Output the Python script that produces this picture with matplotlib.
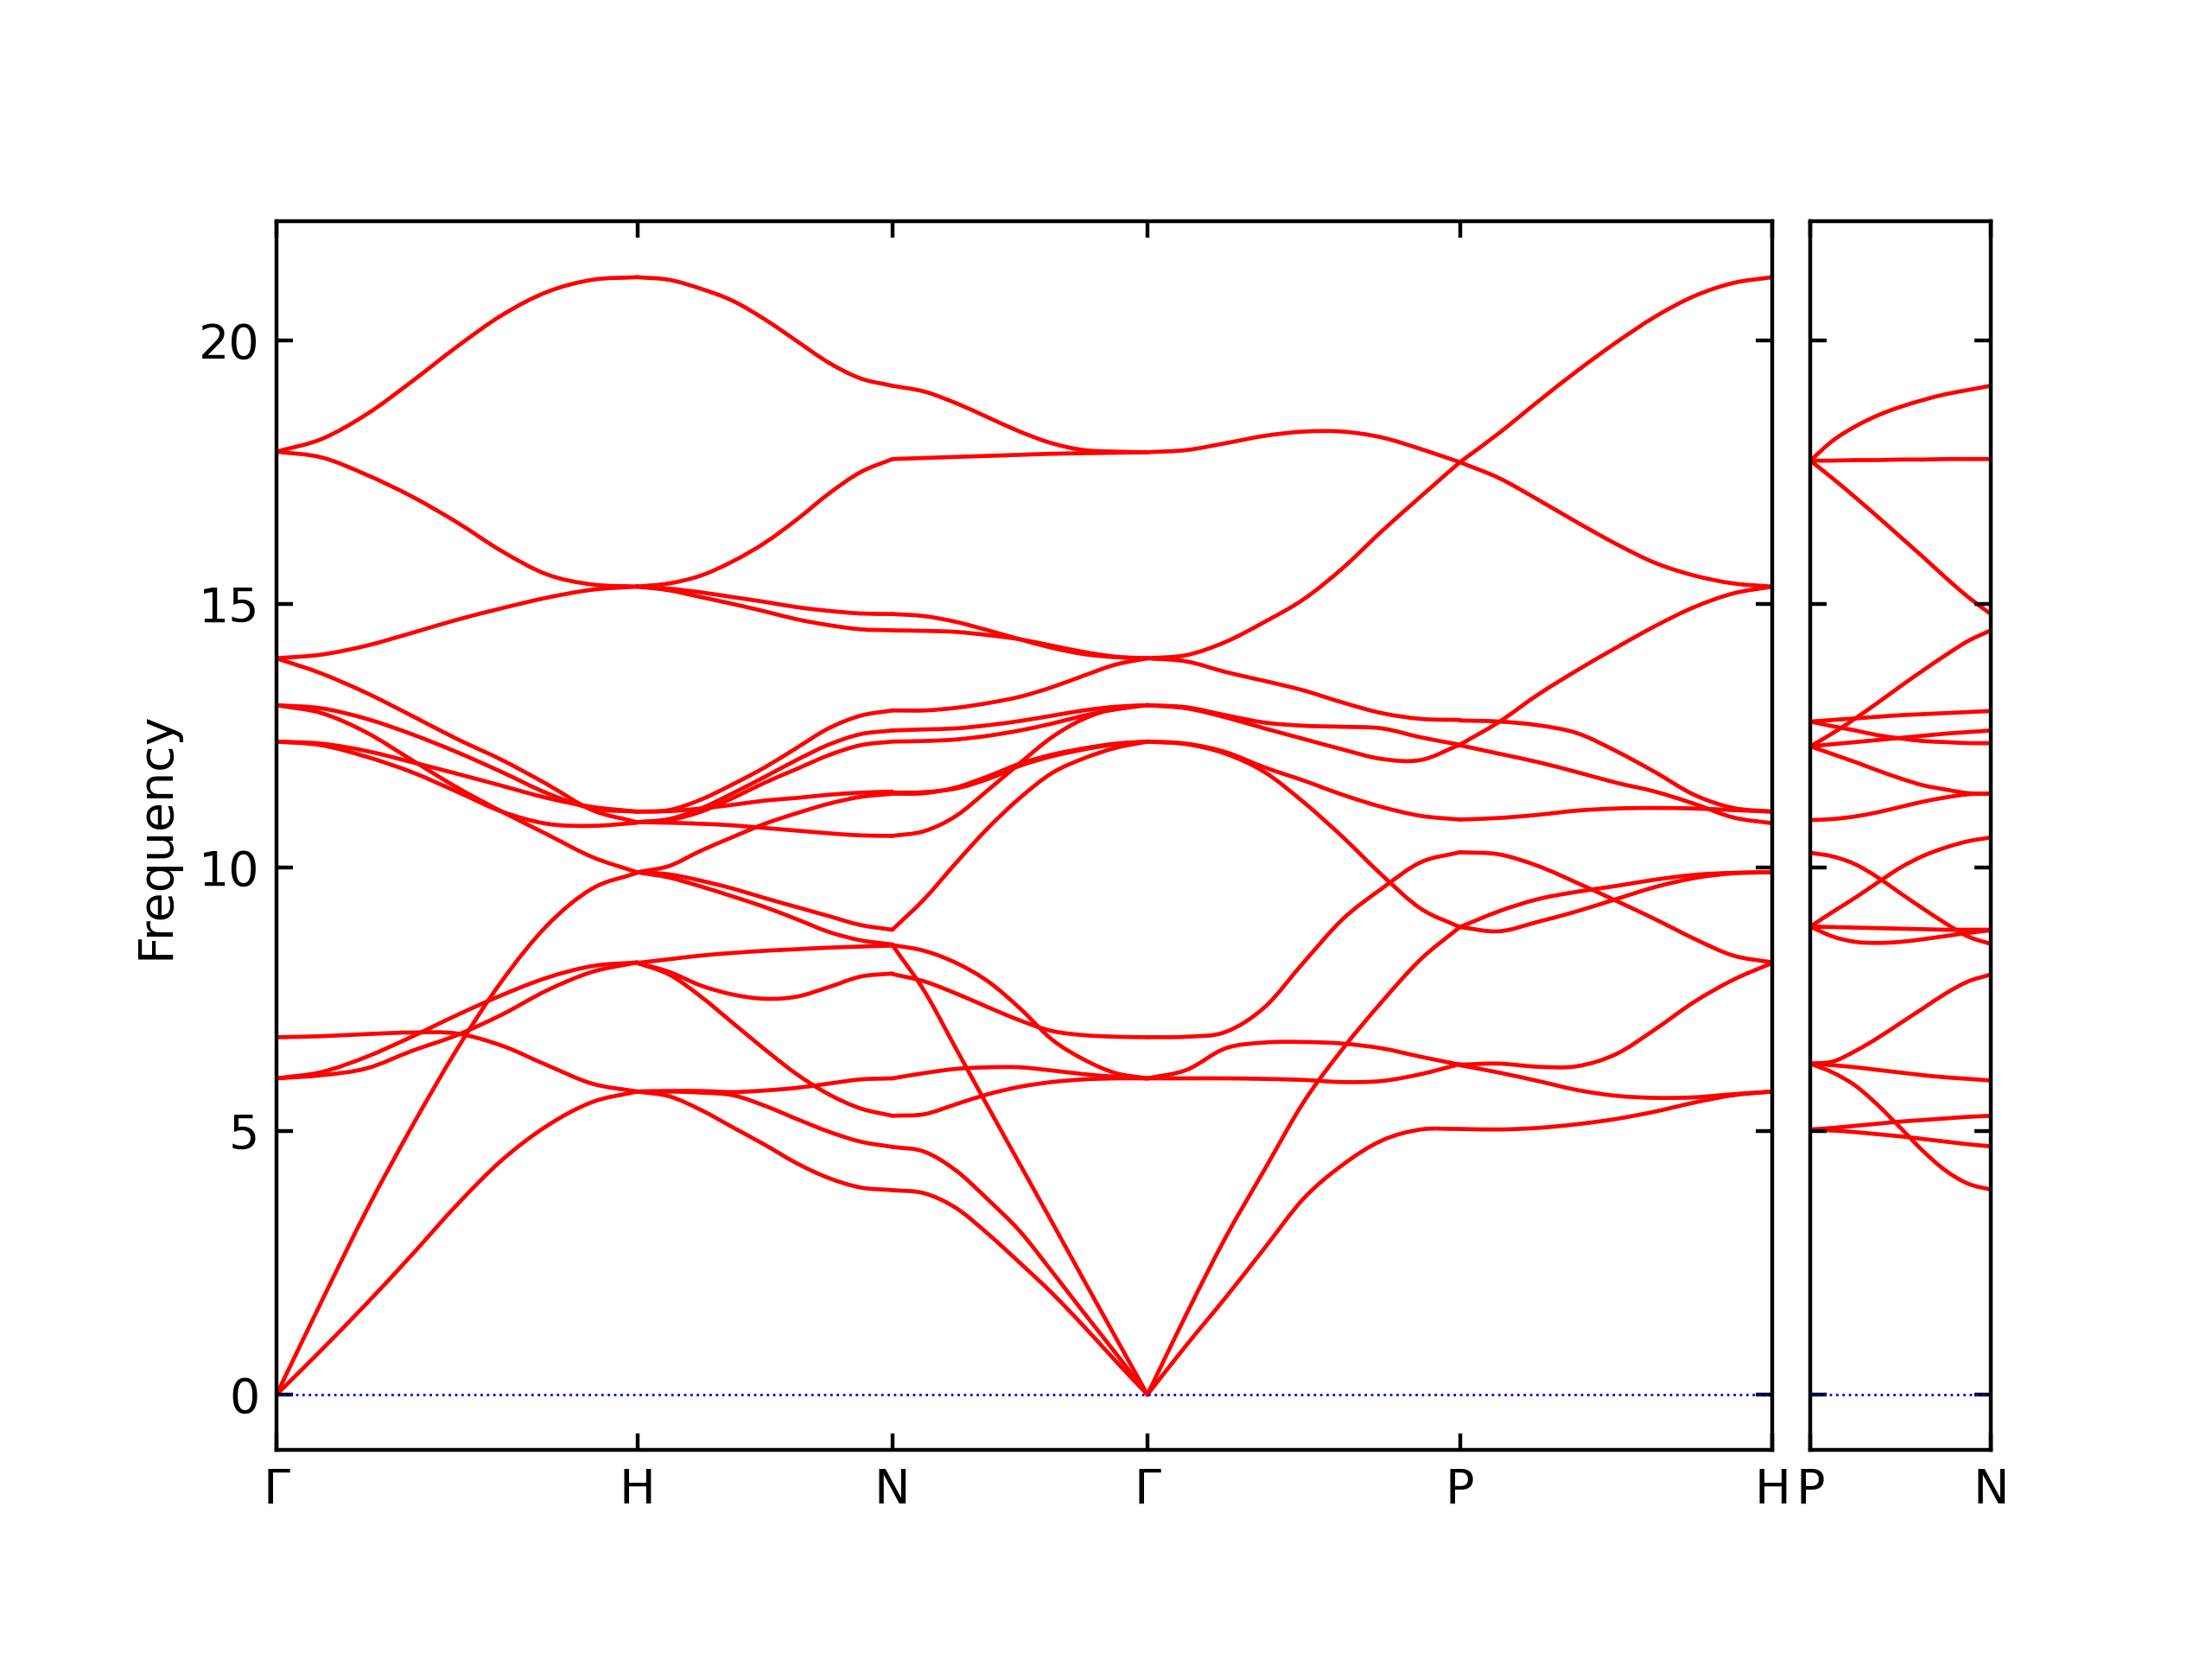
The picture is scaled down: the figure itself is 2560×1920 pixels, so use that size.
import numpy as np
import matplotlib
matplotlib.use("Agg")
import matplotlib.pyplot as plt
from matplotlib.path import Path
from matplotlib.patches import PathPatch

# ---------------- data ----------------
main_labels = ["Γ", "H", "N", "Γ", "P", "H"]
side_labels = ["P", "N"]
# path lengths of the q-path segments (units of 2*pi/a, bcc lattice)
main_seg_lengths = [1.0, np.sqrt(0.5), np.sqrt(0.5), np.sqrt(3) / 2, np.sqrt(3) / 2]
side_seg_lengths = [0.5]
y_ticks = [0, 5, 10, 15, 20]

# frequencies read at 9 equally spaced q-points along each segment
gamma_h = [
    [17.89, 18.13, 18.6, 19.22, 19.88, 20.48, 20.92, 21.15, 21.2],
    [17.89, 17.78, 17.45, 17.04, 16.55, 16.0, 15.56, 15.37, 15.33],
    [13.97, 14.04, 14.21, 14.45, 14.7, 14.92, 15.12, 15.27, 15.33],
    [13.97, 13.68, 13.31, 12.88, 12.44, 12.04, 11.58, 11.09, 10.86],
    [13.08, 13.02, 12.82, 12.53, 12.19, 11.81, 11.41, 11.12, 11.06],
    [13.08, 12.93, 12.56, 12.04, 11.52, 11.06, 10.63, 10.2, 9.91],
    [12.39, 12.35, 12.21, 12.0, 11.78, 11.55, 11.32, 11.15, 11.06],
    [12.39, 12.32, 12.1, 11.81, 11.44, 11.06, 10.83, 10.79, 10.85],
    [6.78, 6.8, 6.84, 6.87, 6.85, 6.62, 6.25, 5.9, 5.75],
    [6.0, 6.12, 6.41, 6.79, 7.2, 7.58, 7.91, 8.13, 8.2],
    [6.0, 6.06, 6.19, 6.52, 6.82, 7.21, 7.67, 8.02, 8.2],
    [0.0, 1.77, 3.5, 5.08, 6.55, 7.85, 8.9, 9.6, 9.9],
    [0.0, 0.85, 1.73, 2.65, 3.6, 4.45, 5.1, 5.55, 5.75],
]

h_n = [
    [21.2, 21.15, 20.98, 20.75, 20.4, 19.99, 19.58, 19.28, 19.14],
    [15.33, 15.39, 15.54, 15.81, 16.16, 16.6, 17.09, 17.5, 17.75],
    [15.33, 15.29, 15.22, 15.13, 15.04, 14.94, 14.87, 14.82, 14.81],
    [15.33, 15.26, 15.13, 15.0, 14.86, 14.71, 14.6, 14.52, 14.5],
    [11.06, 11.09, 11.29, 11.58, 11.9, 12.27, 12.64, 12.88, 12.98],
    [10.86, 10.92, 11.12, 11.41, 11.72, 12.04, 12.33, 12.53, 12.6],
    [10.86, 10.9, 11.06, 11.32, 11.61, 11.87, 12.13, 12.32, 12.39],
    [11.06, 11.07, 11.12, 11.19, 11.27, 11.32, 11.38, 11.42, 11.44],
    [10.86, 10.85, 10.83, 10.8, 10.75, 10.7, 10.65, 10.61, 10.6],
    [9.91, 10.03, 10.32, 10.58, 10.83, 11.03, 11.21, 11.34, 11.4],
    [9.91, 9.87, 9.75, 9.6, 9.42, 9.25, 9.08, 8.91, 8.82],
    [9.91, 9.81, 9.64, 9.45, 9.25, 9.02, 8.78, 8.62, 8.54],
    [8.19, 8.26, 8.33, 8.38, 8.42, 8.45, 8.48, 8.5, 8.52],
    [8.19, 8.02, 7.76, 7.59, 7.51, 7.55, 7.73, 7.93, 7.99],
    [8.19, 7.97, 7.55, 7.05, 6.55, 6.08, 5.7, 5.43, 5.29],
    [5.75, 5.76, 5.76, 5.74, 5.77, 5.82, 5.9, 5.98, 6.0],
    [5.75, 5.75, 5.73, 5.68, 5.48, 5.23, 4.99, 4.8, 4.7],
    [5.75, 5.66, 5.4, 5.07, 4.74, 4.39, 4.11, 3.93, 3.88],
]

n_gamma = [
    [19.14, 19.03, 18.81, 18.54, 18.27, 18.05, 17.92, 17.89, 17.88],
    [17.75, 17.77, 17.79, 17.81, 17.83, 17.85, 17.86, 17.87, 17.88],
    [14.81, 14.77, 14.66, 14.5, 14.33, 14.17, 14.05, 13.99, 13.97],
    [14.5, 14.49, 14.47, 14.41, 14.33, 14.21, 14.09, 14.0, 13.97],
    [12.98, 12.98, 13.03, 13.12, 13.24, 13.42, 13.64, 13.85, 13.97],
    [12.6, 12.62, 12.64, 12.7, 12.78, 12.88, 12.98, 13.05, 13.08],
    [12.39, 12.4, 12.43, 12.5, 12.6, 12.73, 12.88, 13.0, 13.08],
    [11.42, 11.43, 11.5, 11.68, 11.93, 12.11, 12.24, 12.34, 12.39],
    [11.4, 11.41, 11.52, 11.73, 11.97, 12.14, 12.26, 12.35, 12.39],
    [10.6, 10.69, 10.98, 11.47, 11.98, 12.47, 12.82, 13.02, 13.08],
    [8.82, 9.4, 10.09, 10.75, 11.32, 11.79, 12.07, 12.27, 12.39],
    [8.53, 7.66, 6.56, 5.46, 4.37, 3.28, 2.18, 1.09, 0.0],
    [3.88, 3.82, 3.54, 3.05, 2.5, 1.93, 1.3, 0.64, 0.0],
    [4.7, 4.61, 4.25, 3.7, 3.1, 2.34, 1.56, 0.79, 0.0],
    [5.29, 5.32, 5.51, 5.7, 5.84, 5.93, 5.98, 6.0, 6.0],
    [6.0, 6.1, 6.18, 6.21, 6.21, 6.15, 6.08, 6.03, 6.0],
    [7.98, 7.84, 7.61, 7.35, 7.1, 6.9, 6.82, 6.79, 6.78],
    [8.53, 8.42, 8.19, 7.84, 7.33, 6.74, 6.36, 6.1, 6.0],
]

gamma_p = [
    [17.88, 17.92, 18.05, 18.19, 18.27, 18.27, 18.16, 17.94, 17.69],
    [13.97, 14.03, 14.28, 14.66, 15.09, 15.68, 16.38, 17.04, 17.69],
    [13.97, 13.91, 13.71, 13.54, 13.36, 13.13, 12.93, 12.82, 12.8],
    [13.08, 13.04, 12.89, 12.75, 12.69, 12.67, 12.64, 12.47, 12.33],
    [13.08, 13.02, 12.85, 12.64, 12.44, 12.24, 12.06, 12.04, 12.33],
    [12.39, 12.35, 12.19, 11.9, 11.65, 11.38, 11.15, 10.98, 10.91],
    [12.39, 12.34, 12.16, 11.81, 11.24, 10.58, 9.86, 9.22, 8.87],
    [6.78, 6.79, 6.88, 7.35, 8.2, 9.02, 9.6, 10.1, 10.29],
    [6.0, 6.16, 6.57, 6.68, 6.69, 6.66, 6.57, 6.41, 6.26],
    [6.0, 6.0, 6.0, 5.99, 5.97, 5.93, 5.95, 6.08, 6.27],
    [0.0, 1.53, 2.98, 4.27, 5.55, 6.56, 7.45, 8.26, 8.87],
    [0.0, 0.94, 1.84, 2.78, 3.72, 4.36, 4.82, 5.03, 5.04],
]

p_h = [
    [17.69, 18.24, 18.84, 19.42, 19.96, 20.45, 20.84, 21.09, 21.2],
    [17.69, 17.39, 16.98, 16.55, 16.14, 15.78, 15.54, 15.39, 15.33],
    [12.79, 12.77, 12.7, 12.55, 12.21, 11.81, 11.38, 11.13, 11.06],
    [12.33, 12.76, 13.28, 13.74, 14.17, 14.58, 14.94, 15.2, 15.33],
    [12.32, 12.16, 12.0, 11.81, 11.61, 11.44, 11.21, 10.95, 10.84],
    [10.91, 10.94, 11.0, 11.08, 11.12, 11.13, 11.12, 11.09, 11.06],
    [10.29, 10.25, 10.03, 9.71, 9.37, 9.02, 8.65, 8.33, 8.2],
    [8.87, 8.79, 8.97, 9.17, 9.4, 9.63, 9.8, 9.89, 9.91],
    [8.87, 9.17, 9.4, 9.54, 9.65, 9.77, 9.86, 9.9, 9.91],
    [6.26, 6.28, 6.22, 6.23, 6.46, 6.93, 7.45, 7.87, 8.19],
    [6.25, 6.11, 5.95, 5.78, 5.67, 5.63, 5.64, 5.7, 5.75],
    [5.04, 5.03, 5.06, 5.13, 5.23, 5.37, 5.54, 5.68, 5.75],
]

p_n = [
    [17.72, 18.1, 18.37, 18.58, 18.74, 18.87, 18.98, 19.06, 19.14],
    [17.72, 17.72, 17.73, 17.73, 17.74, 17.74, 17.75, 17.75, 17.75],
    [17.72, 17.38, 17.02, 16.65, 16.27, 15.89, 15.5, 15.13, 14.81],
    [12.3, 12.55, 12.83, 13.13, 13.44, 13.74, 14.03, 14.3, 14.5],
    [12.77, 12.8, 12.83, 12.86, 12.89, 12.91, 12.93, 12.95, 12.97],
    [12.77, 12.68, 12.6, 12.51, 12.45, 12.4, 12.38, 12.36, 12.36],
    [12.3, 12.34, 12.38, 12.42, 12.46, 12.5, 12.54, 12.57, 12.6],
    [12.3, 12.15, 12.0, 11.84, 11.69, 11.56, 11.48, 11.41, 11.4],
    [10.9, 10.92, 10.97, 11.05, 11.15, 11.25, 11.33, 11.39, 11.4],
    [10.28, 10.21, 10.06, 9.81, 9.51, 9.22, 8.94, 8.69, 8.55],
    [8.88, 9.16, 9.43, 9.72, 10.0, 10.22, 10.38, 10.5, 10.57],
    [8.88, 8.87, 8.86, 8.85, 8.84, 8.83, 8.82, 8.82, 8.82],
    [8.88, 8.69, 8.59, 8.57, 8.59, 8.64, 8.7, 8.76, 8.81],
    [6.28, 6.32, 6.52, 6.77, 7.05, 7.33, 7.61, 7.84, 7.97],
    [6.28, 6.25, 6.21, 6.16, 6.11, 6.06, 6.02, 5.99, 5.96],
    [6.28, 6.11, 5.86, 5.49, 5.06, 4.62, 4.25, 4.0, 3.89],
    [5.03, 5.01, 4.98, 4.94, 4.9, 4.85, 4.8, 4.75, 4.71],
    [5.03, 5.06, 5.1, 5.14, 5.18, 5.21, 5.24, 5.27, 5.29],
]

main_segments = [gamma_h, h_n, n_gamma, gamma_p, p_h]
side_segments = [p_n]

# ---------------- plot ----------------
fig = plt.figure(figsize=(6.4, 4.8), dpi=400)
ax1 = fig.add_axes([0.125, 0.126, 0.6762, 0.7406])
ax2 = fig.add_axes([0.8184, 0.126, 0.0816, 0.7406])


def smooth_path(x, y):
    """Cubic Bezier path passing through every sampled point."""
    pts = np.column_stack([x, y])
    n = len(pts)
    tang = np.empty_like(pts)
    tang[1:-1] = (pts[2:] - pts[:-2]) / 2.0
    tang[0] = pts[1] - pts[0]
    tang[-1] = pts[-1] - pts[-2]
    verts = [pts[0]]
    codes = [Path.MOVETO]
    for i in range(n - 1):
        verts += [pts[i] + tang[i] / 3.0, pts[i + 1] - tang[i + 1] / 3.0, pts[i + 1]]
        codes += [Path.CURVE4] * 3
    return Path(verts, codes)


def draw(ax, segments, lengths, labels):
    edges = np.concatenate([[0.0], np.cumsum(lengths)])
    for seg, a, b in zip(segments, edges[:-1], edges[1:]):
        for band in seg:
            x = np.linspace(a, b, len(band))
            ax.add_patch(PathPatch(smooth_path(x, band), facecolor="none",
                                   edgecolor="red", lw=0.85, capstyle="round"))
    ax.axhline(0, color="blue", ls=":", lw=0.5)
    ax.set_xlim(edges[0], edges[-1])
    ax.set_xticks(edges)
    ax.set_xticklabels(labels)
    ax.set_ylim(-1.05, 22.26)
    ax.set_yticks(y_ticks)
    ax.tick_params(direction="in", top=True, right=True, labelsize=10)


draw(ax1, main_segments, main_seg_lengths, main_labels)
draw(ax2, side_segments, side_seg_lengths, side_labels)
ax2.tick_params(labelleft=False)
ax1.set_ylabel("Frequency", fontsize=10)

fig.savefig("out.png", dpi=400)
